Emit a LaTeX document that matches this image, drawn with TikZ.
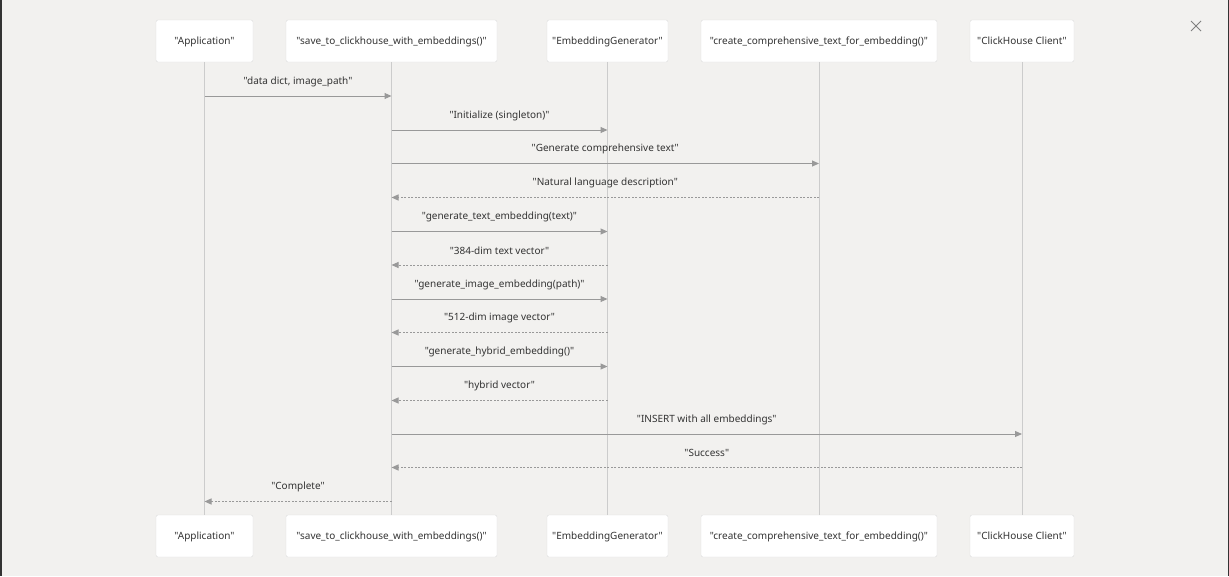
\documentclass[tikz,border=0pt]{standalone}
\usepackage{fontspec}
\setmainfont{Noto Sans}[Ligatures=TeXOff]
\usetikzlibrary{arrows.meta,calc}
\definecolor{bgc}{HTML}{F2F1EF}
\definecolor{boxline}{HTML}{DCDCDC}
\definecolor{lifec}{HTML}{CCCCCC}
\definecolor{msgc}{HTML}{999999}
\definecolor{txtc}{HTML}{333333}
\tikzset{
  actor/.style={draw=boxline, fill=white, rounded corners=2pt, minimum height=42pt, inner sep=0pt, font=\fontsize{10}{12}\selectfont, text=txtc, text height=8pt, text depth=1pt},
  life/.style={draw=lifec, line width=1pt},
  msg/.style={draw=msgc, line width=1pt, -{Triangle[length=7pt,width=6pt]}},
  ret/.style={msg, dash pattern=on 2pt off 1.5pt},
  lbl/.style={font=\fontsize{10}{12}\selectfont, text=txtc, inner sep=0pt}
}
\newcommand\mymsg[5]{% style, from, to, y, label
  \coordinate (s) at (a#2.south |- 0,#4);
  \coordinate (t) at (a#3.south |- 0,#4);
  \draw[#1] (s) -- (t);
  \node[lbl] at ($(s)!0.5!(t) + (0,-14.5)$) {#5};
}
\begin{document}
\begin{tikzpicture}[x=1pt,y=-1pt]
\fill[bgc] (0,0) rectangle (1229,576);
\useasboundingbox (0,0) rectangle (1229,576);
\draw[black!80, line width=1.5pt] (0.75,0) -- (0.75,576);
\draw[black!80, line width=1.5pt] (1228.25,0) -- (1228.25,576);
% close icon
\draw[gray, line width=1pt] (1191,21) -- (1201,31) (1201,21) -- (1191,31);
% actors top
\node[actor, minimum width=97pt] (a1) at (204.5,41) {"Application"};
\node[actor, minimum width=211pt] (a2) at (391.5,41) {"save\_to\_clickhouse\_with\_embeddings()"};
\node[actor, minimum width=121pt] (a3) at (607.5,41) {"EmbeddingGenerator"};
\node[actor, minimum width=236pt] (a4) at (819,41) {"create\_comprehensive\_text\_for\_embedding()"};
\node[actor, minimum width=104pt] (a5) at (1022,41) {"ClickHouse Client"};
% actors bottom
\node[actor, minimum width=97pt] (b1) at (204.5,536) {"Application"};
\node[actor, minimum width=211pt] (b2) at (391.5,536) {"save\_to\_clickhouse\_with\_embeddings()"};
\node[actor, minimum width=121pt] (b3) at (607.5,536) {"EmbeddingGenerator"};
\node[actor, minimum width=236pt] (b4) at (819,536) {"create\_comprehensive\_text\_for\_embedding()"};
\node[actor, minimum width=104pt] (b5) at (1022,536) {"ClickHouse Client"};
% lifelines
\foreach \i in {1,...,5} \draw[life] (a\i.south) -- (b\i.north);
% messages
\mymsg{msg}{1}{2}{96}{"data dict, image\_path"}
\mymsg{msg}{2}{3}{130}{"Initialize (singleton)"}
\mymsg{msg}{2}{4}{163.5}{"Generate comprehensive text"}
\mymsg{ret}{4}{2}{197.5}{"Natural language description"}
\mymsg{msg}{2}{3}{231.5}{"generate\_text\_embedding(text)"}
\mymsg{ret}{3}{2}{265}{"384-dim text vector"}
\mymsg{msg}{2}{3}{299}{"generate\_image\_embedding(path)"}
\mymsg{ret}{3}{2}{332.5}{"512-dim image vector"}
\mymsg{msg}{2}{3}{366.5}{"generate\_hybrid\_embedding()"}
\mymsg{ret}{3}{2}{400.5}{"hybrid vector"}
\mymsg{msg}{2}{5}{434}{"INSERT with all embeddings"}
\mymsg{ret}{5}{2}{467.5}{"Success"}
\mymsg{ret}{2}{1}{501.5}{"Complete"}
\end{tikzpicture}
\end{document}
